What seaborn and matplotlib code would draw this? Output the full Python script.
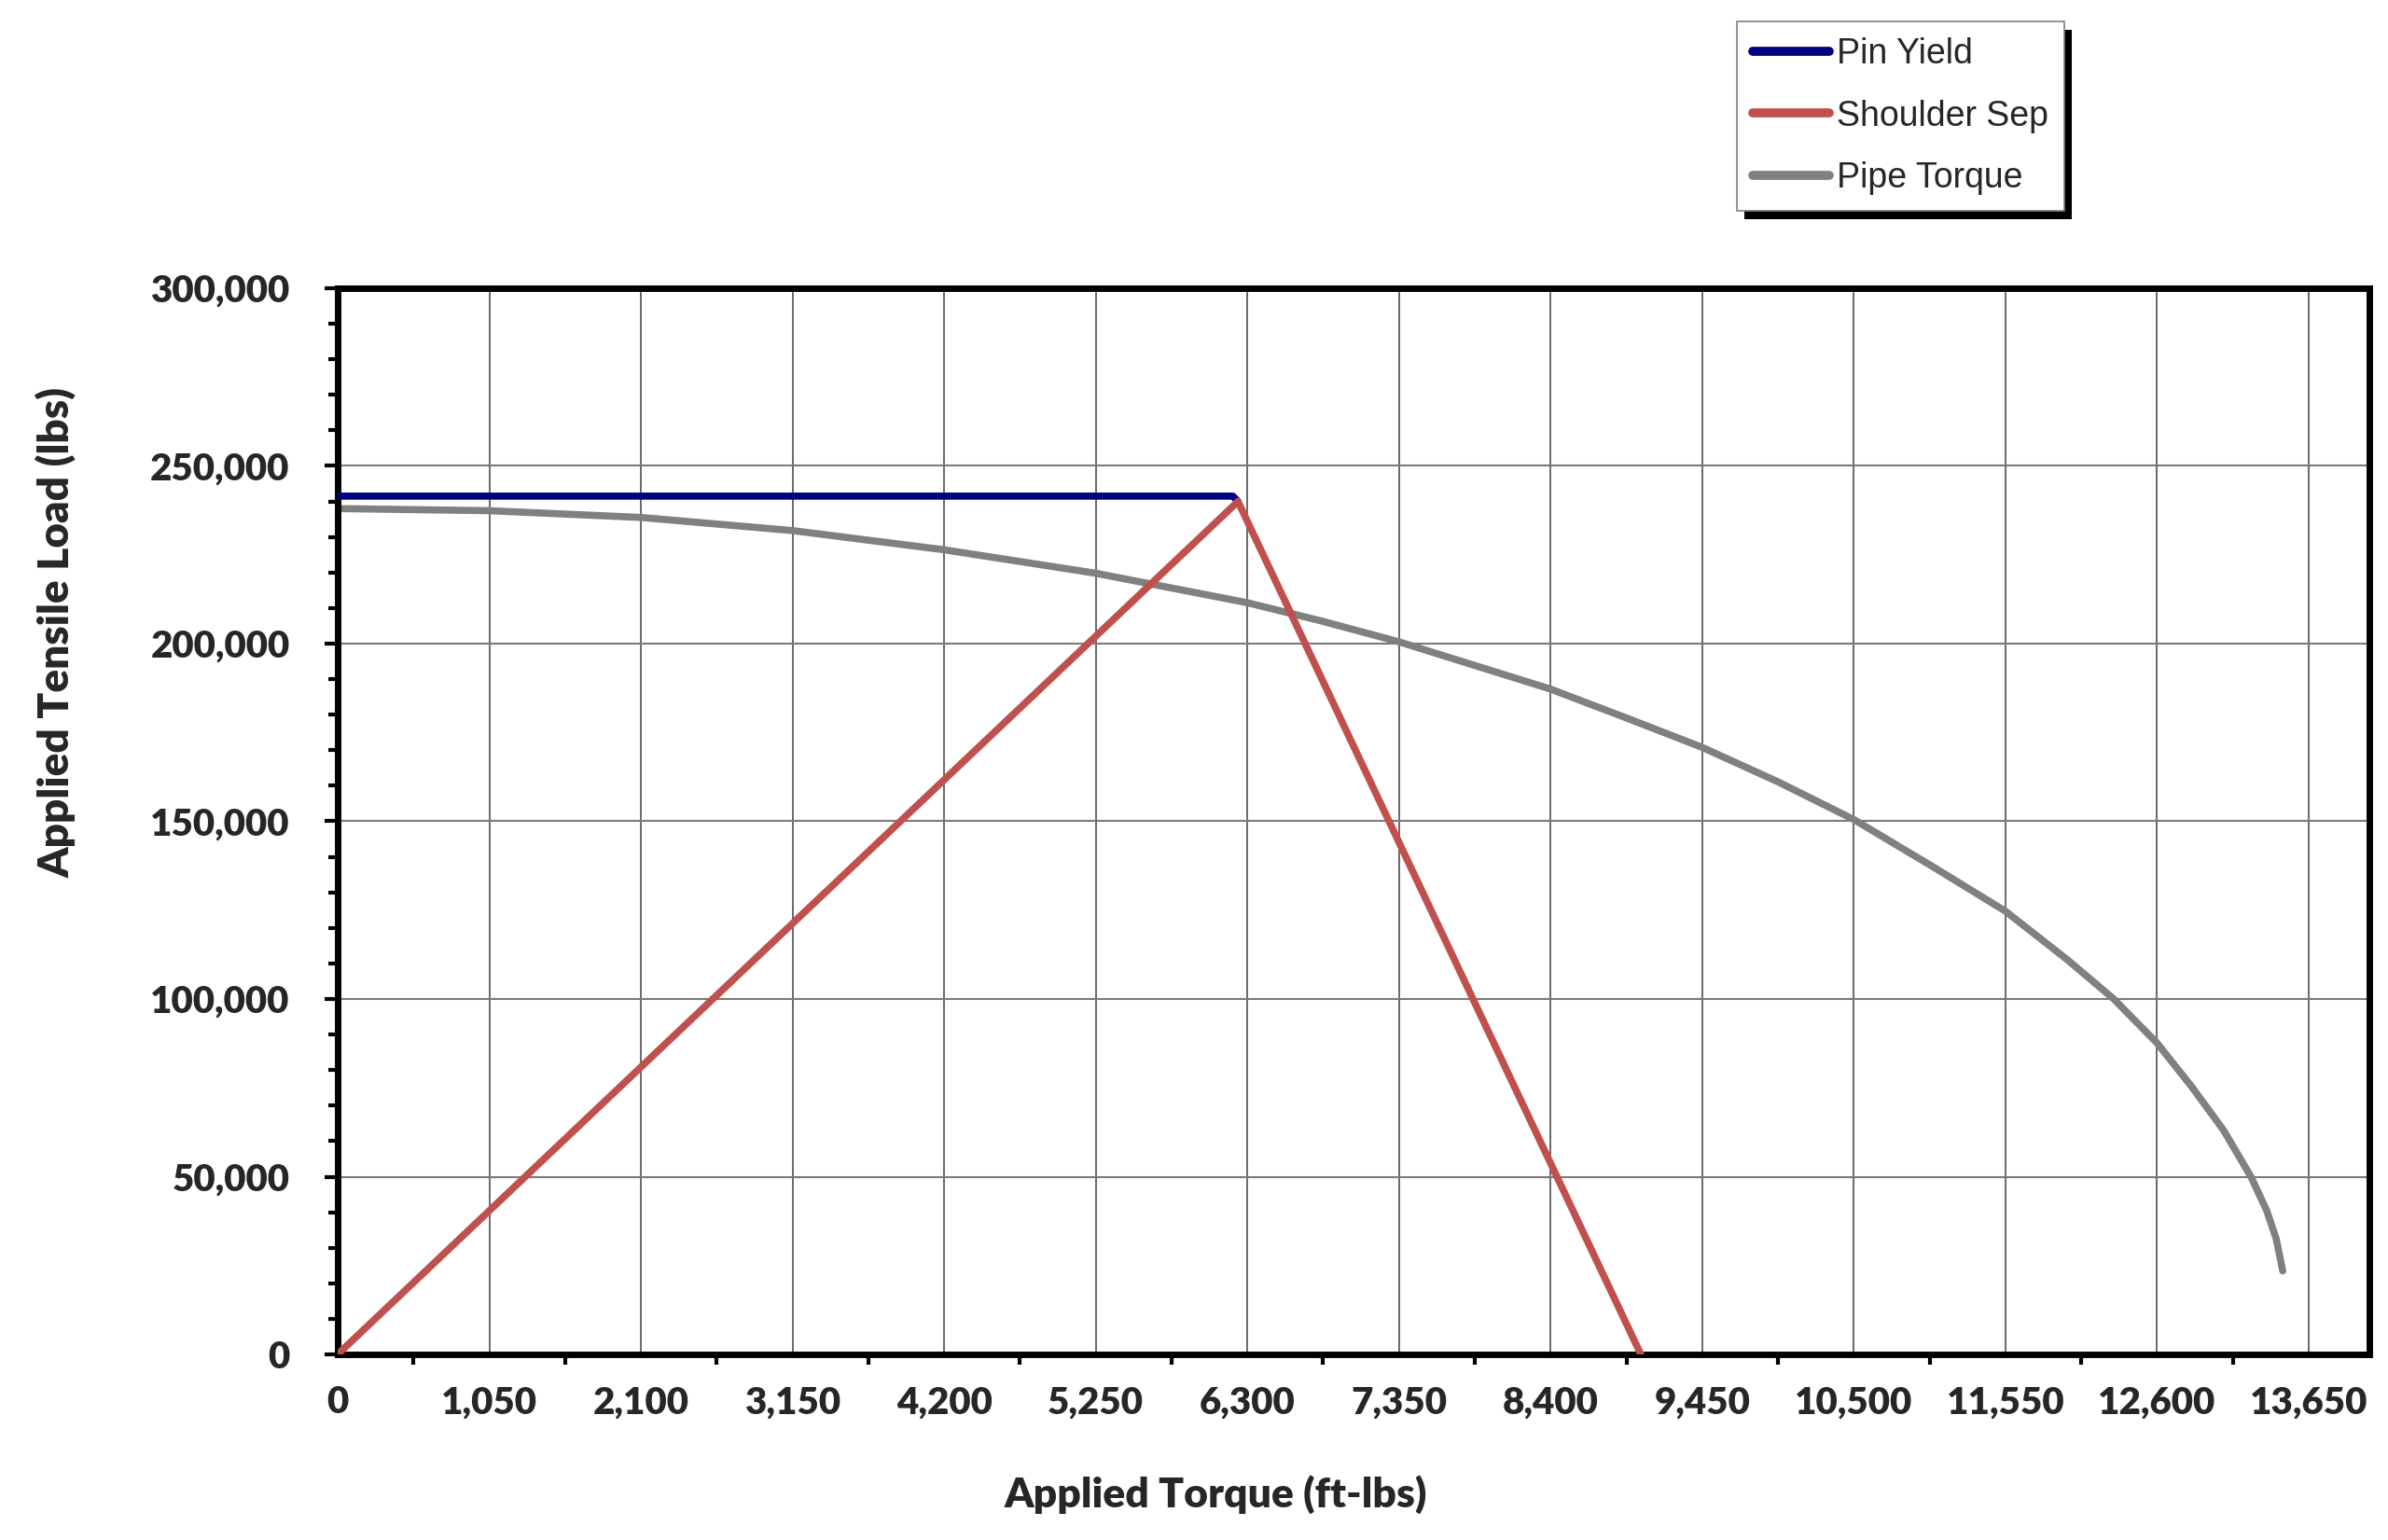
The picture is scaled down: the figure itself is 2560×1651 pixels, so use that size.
import numpy as np
import seaborn as sns
import matplotlib.pyplot as plt
from matplotlib.ticker import MultipleLocator, FuncFormatter
from matplotlib.patches import Rectangle

sns.set_style('white')
plt.rcParams['font.family'] = ['Lato', 'DejaVu Sans']

# values
pin_torque = [0, 6200, 6235]
pin_load = [241500, 241500, 240000]

sep_torque = [0, 6235, 9025]
sep_load = [0, 240000, 0]

pipe_torque = [0, 1050, 2100, 3150, 4200, 5250, 6300, 6800, 7350, 8400, 8930, 9450,
               9970, 10500, 11040, 11550, 11980, 12300, 12600, 12840, 13060, 13250,
               13360, 13425, 13470]
pipe_load = [238000, 237400, 235500, 231800, 226400, 219800, 211500, 206500, 200500,
             187200, 179000, 170800, 161200, 150500, 137400, 124700, 111000, 100000,
             87600, 75300, 63100, 50000, 40400, 32500, 23500]

fig = plt.figure(figsize=(25.6, 16.51), dpi=100)
ax = fig.add_axes([362/2560, 1 - 1452/1651, 2178/2560, 1143/1651])

sns.lineplot(x=pin_torque, y=pin_load, ax=ax, color='#000080', lw=5.5,
             label='Pin Yield', solid_capstyle='round', zorder=3)
sns.lineplot(x=sep_torque, y=sep_load, ax=ax, color='#C0504D', lw=5.5,
             label='Shoulder Sep', solid_capstyle='round', zorder=4)
sns.lineplot(x=pipe_torque, y=pipe_load, ax=ax, color='#808080', lw=5.5,
             label='Pipe Torque', solid_capstyle='round', zorder=2)

ax.set_xlim(0, 14070)
ax.set_ylim(0, 300000)
ax.xaxis.set_major_locator(MultipleLocator(1050))
ax.xaxis.set_minor_locator(MultipleLocator(525))
ax.yaxis.set_major_locator(MultipleLocator(50000))
ax.yaxis.set_minor_locator(MultipleLocator(10000))
fmt = FuncFormatter(lambda v, p: f'{v:,.0f}')
ax.xaxis.set_major_formatter(fmt)
ax.yaxis.set_major_formatter(fmt)

ax.grid(axis='x', which='major', color='#404040', lw=1.1)
ax.grid(axis='y', which='major', color='#7a7a7a', lw=1.5)

for s in ax.spines.values():
    s.set_visible(True)
    s.set_color('black')
    s.set_linewidth(5)

ax.tick_params(axis='x', which='major', direction='in', length=9, width=3,
               pad=24, labelsize=29, color='black')
ax.tick_params(axis='x', which='minor', direction='out', length=8, width=3,
               color='black', bottom=True)
ax.tick_params(axis='y', which='major', direction='out', length=10, width=3,
               pad=27, labelsize=29, color='black', left=True)
ax.tick_params(axis='y', which='minor', direction='out', length=7, width=3,
               color='black', left=True)
for lab in ax.get_xticklabels() + ax.get_yticklabels():
    lab.set_fontweight('heavy')

ax.set_xlabel('Applied Torque (ft-lbs)', fontsize=32, fontweight='heavy')
ax.set_ylabel('Applied Tensile Load (lbs)', fontsize=33, fontweight='heavy')
ax.xaxis.set_label_coords(0.432, -0.131)
ax.xaxis.label.set_va('center')
ax.yaxis.set_label_coords(-0.139, 0.677)
ax.yaxis.label.set_va('center')

leg = ax.legend(loc='upper left', bbox_to_anchor=(1862/2560, 1 - 23/1651),
                bbox_transform=fig.transFigure, borderaxespad=0,
                prop={'family': 'Liberation Sans', 'size': 27},
                handlelength=2.2, handletextpad=0.2, labelspacing=0.82,
                borderpad=0.45, fancybox=False, framealpha=1)
leg.get_frame().set_edgecolor('#808080')
leg.get_frame().set_linewidth(1.2)
for h in leg.get_lines():
    h.set_linewidth(7)
    h.set_solid_capstyle('round')

fig.canvas.draw()
bb = leg.get_window_extent().transformed(fig.transFigure.inverted())
fig.add_artist(Rectangle((bb.x0 + 8/2560, bb.y0 - 9/1651), bb.width, bb.height,
                         transform=fig.transFigure, facecolor='black',
                         edgecolor='none', zorder=-1))

plt.savefig('out.png', dpi=100, facecolor='white')
